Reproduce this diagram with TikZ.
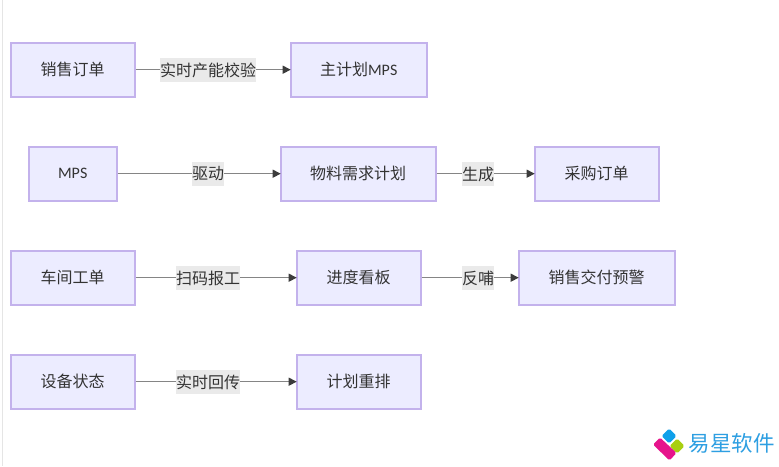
\documentclass[tikz,border=0pt]{standalone}
\usepackage{fontspec}
\setmainfont{Noto Sans CJK SC}
\newfontfamily\latinf{Carlito}
\usetikzlibrary{arrows.meta}
\definecolor{boxfill}{HTML}{ECECFF}
\definecolor{boxline}{HTML}{C3B2EC}
\definecolor{txt}{HTML}{333333}
\definecolor{lab}{HTML}{EAEAEA}
\definecolor{edgec}{HTML}{858585}
\definecolor{headc}{HTML}{3C3C3C}
\definecolor{logot}{HTML}{2E9FE2}
\definecolor{logoblue}{HTML}{0FA0EA}
\definecolor{logogreen}{HTML}{A8CF10}
\definecolor{logopink}{HTML}{E6148C}
\tikzset{
 flowbox/.style={draw=boxline,fill=boxfill,line width=2pt,text=txt,font=\fontsize{16}{18}\selectfont,minimum height=54pt,inner sep=0pt,anchor=center},
 flowedge/.style={draw=edgec,line width=1.3pt,-{Triangle[length=8pt,width=8pt,color=headc]},shorten >=-1pt},
 edgelabel/.style={fill=lab,text=txt,font=\fontsize{16}{18}\selectfont,inner sep=0pt,minimum height=24pt,anchor=center},
}
\begin{document}
\begin{tikzpicture}[x=1pt,y=-1pt]
\useasboundingbox (0,0) rectangle (779,466);
\fill[white] (0,0) rectangle (779,466);
\fill[gray!20] (2,0) rectangle (3,466);
\node[flowbox,minimum width=124pt] (a1) at (72.7,69.7) {销售订单};
\node[flowbox,minimum width=136pt] (a2) at (358.7,69.7) {主计划{\latinf MPS}};
\node[flowbox,minimum width=88pt] (b1) at (72.7,173.7) {{\latinf MPS}};
\node[flowbox,minimum width=155pt] (b2) at (358.2,173.7) {物料需求计划};
\node[flowbox,minimum width=124pt] (b3) at (596.7,173.7) {采购订单};
\node[flowbox,minimum width=124pt] (c1) at (72.7,277.7) {车间工单};
\node[flowbox,minimum width=124pt] (c2) at (358.7,277.7) {进度看板};
\node[flowbox,minimum width=156pt] (c3) at (596.7,277.7) {销售交付预警};
\node[flowbox,minimum width=124pt] (d1) at (72.7,381.7) {设备状态};
\node[flowbox,minimum width=124pt] (d2) at (358.7,381.7) {计划重排};
\draw[flowedge] (a1) -- (a2);
\draw[flowedge] (b1) -- (b2);
\draw[flowedge] (b2) -- (b3);
\draw[flowedge] (c1) -- (c2);
\draw[flowedge] (c2) -- (c3);
\draw[flowedge] (d1) -- (d2);
\node[edgelabel] (la) at (208,70) {实时产能校验};
\node[edgelabel] (lb1) at (208,174) {驱动};
\node[edgelabel] (lb2) at (478,174) {生成};
\node[edgelabel] (lc1) at (208,278) {扫码报工};
\node[edgelabel] (lc2) at (478,278) {反哺};
\node[edgelabel] (ld) at (208,382) {实时回传};
% logo
\fill[rounded corners=1.5pt,fill=logoblue] (669,428.5) -- (676.5,436) -- (669,443.5) -- (661.5,436) -- cycle;
\fill[rounded corners=1.5pt,fill=logogreen] (677,438.5) -- (684.5,446) -- (677,453.5) -- (669.5,446) -- cycle;
\fill[rounded corners=1.5pt,fill=logopink] (660,437.5) -- (676.5,453) -- (669.5,460.5) -- (653,444.5) -- cycle;
\node[text=logot,font=\fontsize{21.5}{23}\selectfont,inner sep=0pt] (logo) at (731.5,443) {易星软件};
\end{tikzpicture}
\end{document}
